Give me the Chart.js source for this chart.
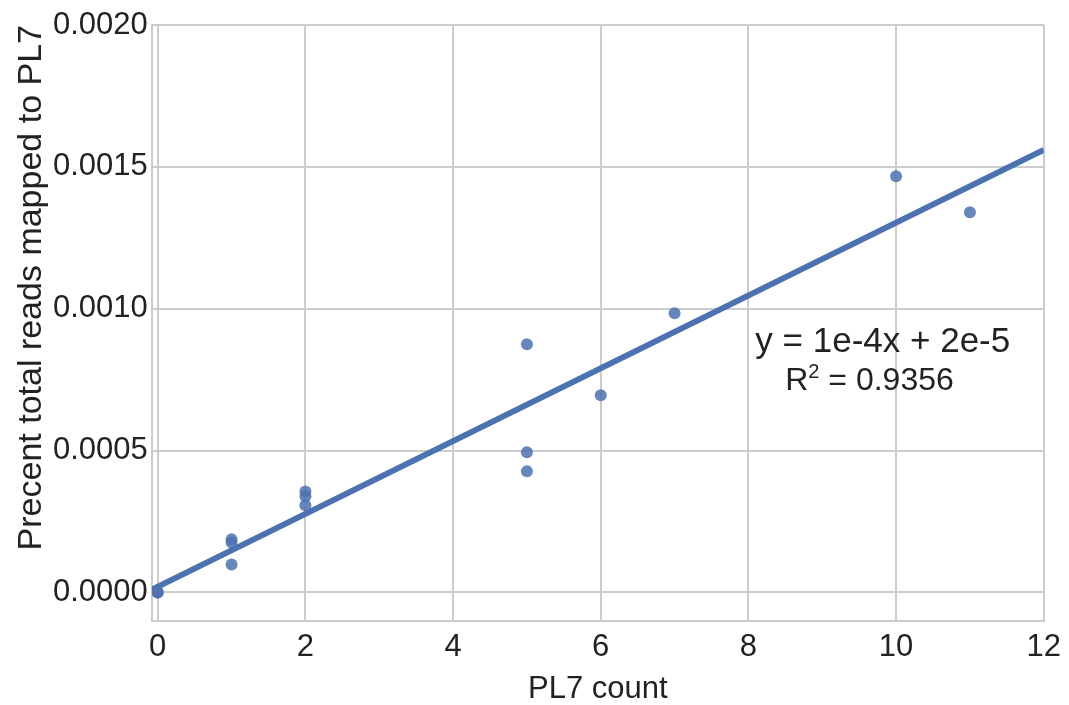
<!DOCTYPE html>
<html>
<head>
<meta charset="utf-8">
<script src="https://cdn.jsdelivr.net/npm/chart.js@4/dist/chart.umd.min.js"></script>
<style>
    html, body { margin: 0; padding: 0; background: #fff; }
    #wrap { width: 1069px; height: 705px; }
</style>
</head>
<body>
<div id="wrap"><canvas id="fitChart"></canvas></div>
<script>
// PL7 count vs percent of reads
const countX = [0, 0, 1, 1, 1, 2, 2, 2, 5, 5, 5, 6, 7, 10, 11];
const percentY = [0.0000, 0.0000, 0.000187, 0.000176, 0.0000988, 0.000356, 0.000339, 0.000307,
                  0.000875, 0.000494, 0.000427, 0.000695, 0.000984, 0.001467, 0.00134];

// fitted line end points
const fitX = [-0.08, 12];
const fitY = [0.0000097, 0.00156];

const eqText = 'y = 1e-4x + 2e-5';
const r2Value = '0.9356';

const blue = '#4c72b0';
const grid = '#cccccc';
const font = '"Liberation Sans", Arial, sans-serif';

const annotationPlugin = {
    id: 'fitLabel',
    afterDatasetsDraw(chart) {
        const { ctx, scales } = chart;
        const cx = scales.x.getPixelForValue(9.82);
        const cy = scales.y.getPixelForValue(0.000882);
        ctx.save();
        ctx.fillStyle = '#222';
        ctx.textBaseline = 'middle';
        ctx.font = '35px ' + font;
        ctx.textAlign = 'center';
        ctx.fillText(eqText, cx, cy);

        // R² line with superscript
        const y2 = scales.y.getPixelForValue(0.000744);
        const cx2 = scales.x.getPixelForValue(9.64);
        const rest = ' = ' + r2Value;
        ctx.font = '32px ' + font;
        const wR = ctx.measureText('R').width;
        const wRest = ctx.measureText(rest).width;
        ctx.font = '20px ' + font;
        const wSup = ctx.measureText('2').width;
        let x0 = cx2 - (wR + wSup + wRest) / 2;
        ctx.textAlign = 'left';
        ctx.font = '32px ' + font;
        ctx.fillText('R', x0, y2);
        ctx.font = '20px ' + font;
        ctx.fillText('2', x0 + wR, y2 - 9);
        ctx.font = '32px ' + font;
        ctx.fillText(rest, x0 + wR + wSup, y2);
        ctx.restore();
    }
};

new Chart(document.getElementById('fitChart'), {
    type: 'scatter',
    data: {
        datasets: [
            {
                label: 'fit',
                type: 'line',
                data: fitX.map((x, i) => ({ x, y: fitY[i] })),
                borderColor: blue,
                borderWidth: 6,
                pointRadius: 0,
                fill: false,
                order: 2,
            },
            {
                label: 'samples',
                data: countX.map((x, i) => ({ x, y: percentY[i] })),
                backgroundColor: 'rgba(76,114,176,0.85)',
                borderWidth: 0,
                pointRadius: 6,
                order: 1,
            }
        ]
    },
    options: {
        responsive: true,
        maintainAspectRatio: false,
        animation: false,
        layout: { padding: { top: 25, right: 24, left: 15, bottom: 0 } },
        plugins: { legend: { display: false }, tooltip: { enabled: false } },
        scales: {
            x: {
                type: 'linear',
                min: -0.08,
                max: 12,
                grid: { color: grid, lineWidth: 2, drawTicks: false },
                border: { color: grid, width: 2 },
                ticks: {
                    stepSize: 2,
                    includeBounds: false,
                    padding: 8,
                    color: '#222',
                    font: { size: 31, family: font },
                },
                title: {
                    display: true,
                    text: 'PL7 count',
                    color: '#222',
                    padding: { top: 0, bottom: 0 },
                    font: { size: 31, family: font, lineHeight: 1.0 },
                }
            },
            y: {
                min: -0.0001,
                max: 0.002,
                grid: { color: grid, lineWidth: 2, drawTicks: false },
                border: { color: grid, width: 2 },
                ticks: {
                    stepSize: 0.0005,
                    includeBounds: false,
                    padding: 4,
                    color: '#222',
                    font: { size: 31, family: font },
                    callback: v => v.toFixed(4),
                },
                title: {
                    display: true,
                    text: 'Precent total reads mapped to PL7',
                    align: 'end',
                    color: '#222',
                    padding: { top: 0, bottom: 0 },
                    font: { size: 34, family: font, lineHeight: 1.0 },
                }
            }
        }
    },
    plugins: [annotationPlugin]
});
</script>
</body>
</html>
